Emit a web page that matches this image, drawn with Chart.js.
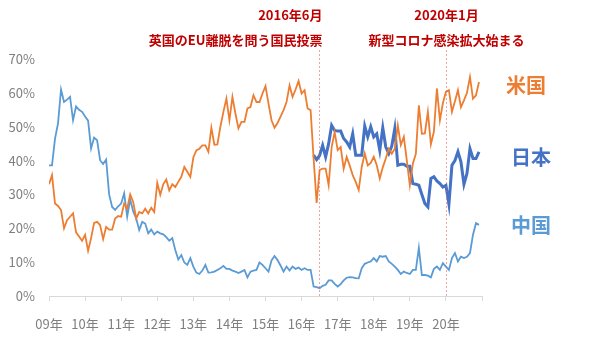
<!DOCTYPE html>
<html>
<head>
<meta charset="utf-8">
<script src="https://cdn.jsdelivr.net/npm/chart.js@4"></script>
<style>
  html, body { margin: 0; padding: 0; background: #ffffff; }
  #wrap { width: 600px; height: 337px; }
</style>
</head>
<body>
<div id="wrap"><canvas id="chart"></canvas></div>
<script>
// year tick labels (one every 12 months, Jan 2009 .. Dec 2020)
const yearLabels = ["09年", "10年", "11年", "12年", "13年", "14年", "15年", "16年", "17年", "18年", "19年", "20年"];

// monthly shares (%), Jan 2009 .. Dec 2020
const usa = [
  33, 35.7, 27.3, 26.6, 25.4, 20, 22.4, 23.4, 24.4, 18.8, 17.6, 16.3,
  18.1, 13.4, 17.1, 21.6, 21.9, 20.9, 16.8, 20.4, 19.6, 19.6, 22.9, 23.6,
  23.4, 27.3, 25.8, 30, 27.8, 22.9, 24.8, 24.4, 25.8, 24.4, 26.1, 24.8,
  33.4, 29.9, 33, 34.4, 31.2, 33, 32.2, 33.7, 35.2, 38.1, 36.7, 35.2,
  40.9, 43, 43.5, 44.5, 44.5, 42.6, 49.7, 44.7, 44.8, 50, 54.4, 58.3,
  51.9, 58.8, 53.9, 49.5, 51.4, 51.4, 55.4, 55.8, 59.3, 57.3, 57.3, 59.8,
  62, 56.8, 51.9, 49.7, 51.1, 53, 54.9, 57.3, 62.2, 58.8, 61, 63.5,
  59.8, 60.8, 55.4, 54.9, 40.6, 27.5, 37.2, 37.6, 37.6, 32.7, 44, 48.4,
  43.1, 44, 37.6, 41.1, 38.5, 35.7, 33.7, 31.3, 38.1, 42.1, 38.6, 39.3,
  41.1, 38.6, 34.7, 38, 40.6, 43.5, 42, 43.5, 50.4, 44.6, 47, 40,
  32.7, 39.1, 42, 56.3, 47.9, 48, 54.4, 44.8, 48.5, 61.3, 51.9, 57,
  60.3, 60.8, 54.4, 57.5, 60.8, 55.8, 57.8, 60, 64.7, 58.3, 59.3, 63.2
];

const china = [
  38.6, 38.6, 46.5, 51, 61, 57.3, 58, 58.8, 51.9, 56, 55, 54.4,
  53, 51.8, 43.6, 46.8, 46, 40.1, 39, 40.3, 30, 26.3, 25.4, 26.5,
  27.3, 30.3, 23.4, 28.5, 25, 22.9, 19.5, 21.9, 21.4, 18.5, 19.6, 18.2,
  19, 18.5, 18.2, 17.4, 16.3, 17.1, 13.6, 10.8, 12.1, 9.9, 9.2, 11.2,
  8.7, 6.9, 6.5, 7.5, 9.2, 6.9, 7, 7.2, 7.7, 8.2, 8.9, 8,
  8, 7.5, 7.2, 6.8, 7.2, 7.7, 5.5, 7.2, 7.5, 7.7, 9.9, 9.2,
  8.2, 7.2, 10.5, 11.8, 10.6, 9, 7.2, 8.7, 7.5, 8.7, 8, 8.4,
  7.7, 8.2, 7.7, 7.7, 2.8, 2.6, 2.3, 3, 3.3, 4.6, 4.6, 3.6,
  2.8, 3.5, 4.6, 5.4, 5.6, 5.5, 5.3, 5.2, 8.2, 9.5, 9.9, 10.2,
  11.2, 10.2, 11.8, 11.6, 11.8, 10.2, 9.5, 8.7, 7.7, 6.5, 7.2, 6.8,
  6.5, 7.7, 7.7, 14.2, 6.2, 6.2, 6, 5.5, 8, 8.7, 7.7, 9.7,
  8.7, 7.7, 11.2, 12.7, 10.2, 11.6, 11.2, 11.6, 12.7, 18.1, 21.5, 21
];

// Japan only from the Brexit vote month onward (index 88 = May/Jun 2016)
const japanStart = 88;
const japan = [
  41.6, 40.3, 41.5, 44.5, 41.1, 45, 50.4, 48.9,
  48.7, 48.7, 46.5, 45.5, 44, 47.9, 41.6, 41.6, 41.6, 50.2, 47, 50,
  47, 47.9, 43, 49.7, 44, 42.1, 44.3, 49.5, 38.6, 38.9, 38.9, 38.3,
  38.3, 33.2, 33, 32.7, 30, 27.3, 26.3, 34.7, 35.2, 34, 33.2, 32.2,
  32.7, 27.1, 38.6, 40, 42.6, 39.6, 33, 36.2, 43.5, 40.6, 40.6, 42.6
];

// event markers: month index and the two text lines
const eventPos = [89.8, 132];
const eventDate = ["2016年6月", "2020年1月"];
const eventText = ["英国のEU離脱を問う国民投票", "新型コロナ感染拡大始まる"];

// series names shown at the right side
const seriesNames = ["米国", "日本", "中国"];
const seriesColors = ["#ed7d31", "#4472c4", "#5b9bd5"];
const nameY = [85, 157, 225];

const FONT = "'Noto Sans CJK JP', 'Noto Sans', sans-serif";

function toPoints(values, start) {
  return values.map((v, i) => ({ x: i + start, y: v }));
}

// dotted red markers and their captions
const eventPlugin = {
  id: "events",
  afterDatasetsDraw(chart) {
    const ctx = chart.ctx;
    const xs = chart.scales.x;
    const area = chart.chartArea;
    ctx.save();
    eventPos.forEach((pos, i) => {
      const px = Math.round(xs.getPixelForValue(pos)) + 0.5;
      ctx.strokeStyle = "rgba(232, 90, 90, 0.55)";
      ctx.lineWidth = 1;
      ctx.setLineDash([2, 2]);
      ctx.beginPath();
      ctx.moveTo(px, 50);
      ctx.lineTo(px, area.bottom);
      ctx.stroke();

      ctx.setLineDash([]);
      ctx.fillStyle = "#c00000";
      ctx.font = "bold 13px " + FONT;
      ctx.textBaseline = "middle";
      ctx.textAlign = i === 0 ? "right" : "center";
      const tx = i === 0 ? px + 3 : px;
      ctx.fillText(eventDate[i], tx, 15);
      ctx.fillText(eventText[i], tx, 40);
    });

    // series names
    ctx.font = "bold 20px " + FONT;
    ctx.textAlign = "left";
    ctx.textBaseline = "middle";
    seriesNames.forEach((name, i) => {
      ctx.fillStyle = seriesColors[i];
      ctx.fillText(name, area.right + (i === 0 ? 24 : 29), nameY[i]);
    });
    ctx.restore();
  }
};

document.addEventListener("DOMContentLoaded", function () {
  const ctx = document.getElementById("chart").getContext("2d");
  new Chart(ctx, {
    type: "line",
    data: {
      datasets: [
        {
          label: "米国",
          data: toPoints(usa, 0),
          borderColor: "#ed7d31",
          borderWidth: 1.8,
          pointRadius: 0,
          tension: 0,
        },
        {
          label: "中国",
          data: toPoints(china, 0),
          borderColor: "#5b9bd5",
          borderWidth: 1.8,
          pointRadius: 0,
          tension: 0,
        },
        {
          label: "日本",
          data: toPoints(japan, japanStart),
          borderColor: "#4472c4",
          borderWidth: 3,
          pointRadius: 0,
          tension: 0,
        },
      ],
    },
    options: {
      responsive: true,
      maintainAspectRatio: false,
      animation: false,
      layout: {
        padding: { top: 59, right: 118, bottom: 0, left: 4 },
      },
      plugins: {
        legend: { display: false },
        tooltip: { enabled: false },
      },
      scales: {
        x: {
          type: "linear",
          min: 0,
          max: 144,
          afterFit: (scale) => { scale.height = 41; },
          ticks: {
            stepSize: 12,
            autoSkip: false,
            maxRotation: 0,
            padding: 15,
            color: "#7f7f7f",
            font: { size: 13, family: FONT },
            callback: function (value) {
              const k = value / 12;
              return yearLabels[k] !== undefined ? yearLabels[k] : "";
            },
          },
          grid: {
            drawOnChartArea: false,
            tickLength: 5,
            color: "#d9d9d9",
          },
          border: { color: "#d9d9d9" },
        },
        y: {
          min: 0,
          max: 70,
          afterFit: (scale) => { scale.width = 45; },
          ticks: {
            stepSize: 10,
            padding: 14,
            color: "#7f7f7f",
            font: { size: 13, family: FONT },
            callback: (v) => v + "%",
          },
          grid: { display: false, drawTicks: false },
          border: { display: false },
        },
      },
    },
    plugins: [eventPlugin],
  });
});
</script>
</body>
</html>
